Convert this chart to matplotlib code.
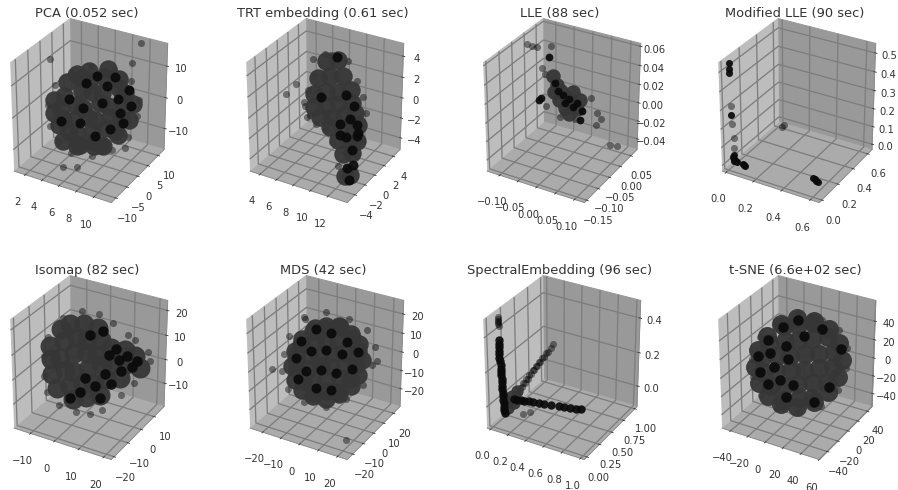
import matplotlib
matplotlib.use('Agg')
import matplotlib.pyplot as plt

# nomi e tempi dei pannelli
titles = ['PCA (0.052 sec)', 'TRT embedding (0.61 sec)', 'LLE (88 sec)', 'Modified LLE (90 sec)',
          'Isomap (82 sec)', 'MDS (42 sec)', 'SpectralEmbedding (96 sec)', 't-SNE (6.6e+02 sec)']

# PCA: 44 nucleo, 16 scuri, 20 bordo
pca_x = [5.2,6.6,8.0,3.7,5.2,6.6,8.0,9.5,3.0,4.5,5.9,7.3,8.7,10.2,3.0,4.5,5.9,7.3,8.7,10.2,3.7,5.2,6.6,8.0,9.5,5.2,6.6,8.0,
         11.0,10.6,9.7,8.2,6.6,4.9,3.5,2.5,2.2,2.5,3.5,4.9,6.6,8.2,9.7,10.6,
         7.2,9.2,10.8,11.1,9.9,8.4,7.8,9.6,6.0,4.0,3.0,5.2,7.0,8.7,5.6,10.2,
         1.4,1.6,2.6,4.2,6.6,9.0,10.8,11.8,11.0,10.0,8.1,5.5,3.1,2.3,9.2,1.5,5.4,7.5,11.0,9.2]
pca_y = [1,-1,0,-1,1,0,-1,1,0,1,-1,1,-1,0,1,0,1,-1,0,-1,1,-1,0,1,-1,0,1,-1,
         1,-1,0,1,-1,0,1,-1,0,1,-1,0,1,-1,0,1,
         0,0,0,0,0,0,0,0,0,0,0,0,0,0,0,0,
         0,0,0,0,0,0,0,0,4,4,4,4,4,0,12,1,-8,-10,-2,8]
pca_z = [8.1,9.6,11.1,2.5,4.1,5.5,6.9,8.5,-2.3,-0.8,0.6,2.1,3.5,5.1,-6.4,-4.9,-3.5,-2.0,-0.6,1.0,-9.9,-8.3,-6.9,-5.5,-3.9,-12.5,-11.0,-9.5,
         4.6,8.9,12.0,13.3,12.6,9.9,5.7,0.6,-4.5,-8.9,-12.0,-13.3,-12.5,-9.8,-5.6,-0.6,
         10.9,12.2,9.4,4.7,1.7,8.7,3.0,5.8,7.9,1.4,-6.4,-5.5,-8.1,-4.6,-0.3,-1.4,
         -2.6,-9.2,-13.6,-16.0,-14.9,-11.1,-5.2,2.0,4.0,9.0,11.2,10.5,6.7,4.5,15.7,11.4,-14.4,-10.9,-7.3,11.9]

# TRT: 28 nucleo, 15 scuri, 21 bordo
trt_x = [8.5,9.9,7.6,9.0,10.4,7.1,8.5,9.9,11.3,7.1,8.5,9.9,11.5,8.4,9.8,11.2,12.4,10.1,11.5,12.6,13.3,11.1,12.4,13.2,12.2,13.2,12.5,13.1,
         9.7,10.8,11.7,7.9,11.9,12.6,10.7,13.2,12.0,13.3,12.7,12.7,13.4,12.9,11.3,
         7.1,6.4,5.9,6.2,7.3,9.1,11.0,12.0,12.7,9.1,13.6,10.4,13.8,11.7,13.7,3.7,5.0,7.0,8.4,6.0,6.6]
trt_y = [0,0,0,0,0,0,0,0,0,0,0,0,0,-1,-1,-1,-1,-2,-2,-2,-2,-2,-2,-2,-3,-3,-3,-3,
         0,0,0,0,-1,-1,-1,-2,-2,-2,-2,-3,-3,-3,-2,
         0,0,0,0,0,0,0,0,0,-1,-1,-2,-2,-3,-3,0,0,0,0,0,0]
trt_z = [4.5,4.9,2.7,3.2,3.5,1.0,1.5,1.9,2.4,-0.2,0.2,0.7,1.2,-0.5,-0.1,0.4,0.9,-0.6,-0.2,0.3,0.4,-1.6,-1.1,-1.2,-2.2,-1.9,-4.3,-4.0,
         5.1,1.8,0.9,0.9,0.2,-0.2,-0.6,-0.7,-1.1,-0.4,-2.2,-3.4,-3.0,-4.6,-1.1,
         2.7,1.2,0.0,-1.4,-1.9,5.1,5.0,3.4,2.0,-1.5,1.2,-2.0,-1.0,-3.5,-2.0,0.2,1.5,4.3,5.1,-0.4,-1.2]

# LLE: 12 nucleo, 12 scuri, 16 bordo
lle_x = [-0.032,-0.021,-0.010,-0.030,0.003,-0.016,0.017,0.000,0.031,0.011,0.022,0.039,
         -0.041,-0.065,-0.071,-0.027,-0.005,0.011,0.022,0.033,-0.019,0.000,0.039,0.044,
         -0.101,-0.087,-0.074,-0.057,-0.060,-0.052,-0.052,-0.005,0.085,0.096,0.083,0.120,0.125,0.069,0.028,-0.013]
lle_y = [-0.04,-0.04,-0.04,-0.04,-0.04,-0.04,-0.04,-0.04,-0.04,-0.04,-0.04,-0.04,
         -0.04,-0.04,-0.04,-0.04,-0.04,-0.04,-0.04,-0.04,-0.04,-0.04,-0.04,-0.04,
         -0.04,-0.04,-0.04,-0.01,-0.04,-0.04,-0.04,-0.04,-0.04,-0.04,-0.04,-0.04,-0.02,-0.04,-0.04,-0.04]
lle_z = [0.036,0.028,0.023,0.020,0.018,0.013,0.013,0.006,0.009,0.001,0.026,0.019,
         0.055,0.009,0.006,0.030,0.019,0.017,0.010,0.015,0.022,0.011,-0.002,0.008,
         0.062,0.062,0.062,0.059,0.042,0.036,0.002,0.001,0.011,0.005,-0.003,-0.019,-0.025,0.024,-0.003,-0.005]

# Modified LLE: solo punti scuri e grigi
mod_x = [0.01,0.01,0.01,0.015,0.02,0.03,0.03,0.04,0.025,0.05,0.10,0.11,0.09,0.60,0.61,0.62,0.59,
         0.02,0.02,0.03,0.03,0.03,0.04]
mod_y = [0.02,0.02,0.02,0.02,0.02,0.02,0.02,0.02,0.03,0.02,0.02,0.02,0.02,0.02,0.02,0.02,0.02,
         0.02,0.02,0.02,0.02,0.60,0.60]
mod_z = [0.54,0.51,0.49,0.27,0.04,0.03,0.02,0.02,0.05,0.02,0.015,0.01,0.02,0.06,0.055,0.05,0.065,
         0.32,0.22,0.15,0.09,-0.02,-0.01]

# Isomap: 34 nucleo, 16 scuri, 18 bordo
iso_x = [-9.6,-4.6,0.5,5.5,-13.0,-7.9,-2.9,2.2,7.2,-13.8,-8.8,-3.7,1.3,6.4,11.4,16.4,21.5,-13.0,-7.9,-2.9,2.2,7.2,12.2,17.3,22.3,-10.4,-5.4,-0.4,4.7,9.7,14.8,-3.7,1.3,6.4,
         13.5,17.7,21.9,19.8,14.8,10.6,15.6,9.3,5.1,-1.2,7.2,0.9,11.4,-5.4,3.0,8.0,
         -14.6,-16.3,-16.5,-15.5,-10.4,-2.9,3.0,8.0,15.6,20.6,22.8,22.8,21.0,18.0,12.2,6.4,-0.4,-7.9]
iso_y = [-1,-3,-2,-1,-3,-2,-1,-3,-2,-1,-3,-2,-1,-3,-2,-1,-3,-2,-1,-3,-2,-1,-3,-2,-1,-3,-2,-1,-3,-2,-1,-3,-2,-1,
         -2,-2,-2,-2,-2,-2,-2,-2,-2,-2,-2,-2,-2,-2,-2,-2,
         -2,-2,-2,-2,-2,-2,-2,-2,-2,-2,6,4,-2,-2,-2,-2,-2,-2]
iso_z = [12.7,16.8,17.8,17.0,5.7,8.9,11.2,12.3,13.3,-0.8,2.0,4.8,5.8,7.7,11.4,11.5,11.2,-6.6,-3.9,-2.0,-0.1,2.7,5.5,6.5,5.8,-11.0,-9.1,-7.2,-4.4,-1.7,-0.6,-13.7,-11.8,-9.9,
         11.3,9.7,9.1,6.1,7.3,8.3,3.2,0.0,-6.0,-10.6,-10.4,-4.1,-3.6,-14.4,14.3,17.1,
         8.6,0.0,-8.2,-14.7,-18.9,-19.6,-18.7,-15.5,-6.5,-0.2,5.1,10.0,16.9,18.3,21.3,23.5,22.7,18.1]

# MDS: 44 nucleo, 16 scuri, 18 bordo
mds_x = [-7.6,-1.0,5.6,-14.1,-7.6,-1.0,5.6,12.1,-17.4,-10.8,-4.3,2.3,8.8,15.4,-17.4,-10.8,-4.3,2.3,8.8,15.4,-14.1,-7.6,-1.0,5.6,12.1,-7.6,-1.0,5.6,
         17.6,16.0,12.1,6.1,-1.0,-8.1,-14.1,-18.0,-19.6,-18.0,-14.1,-8.1,-1.0,6.1,12.1,16.0,
         -14.7,-6.5,1.7,9.9,15.4,-17.4,-9.2,-1.0,7.2,-11.9,-3.7,4.5,12.7,-6.5,1.7,-16.3,
         -24.0,-25.0,-21.8,-13.0,-1.0,9.9,18.7,23.0,24.0,19.8,11.0,-1.0,-11.9,-20.7,-21.0,23.6,-21.5,21.4]
mds_y = [2,0,1,0,2,1,0,2,1,2,0,2,0,1,2,1,2,0,1,0,2,0,1,2,0,1,2,0,
         1,1,1,1,1,1,1,1,1,1,1,1,1,1,1,1,
         1,1,1,1,1,1,1,1,1,1,1,1,1,1,1,1,
         1,1,1,1,1,1,1,1,1,1,1,1,1,1,-14,-24,16,9]
mds_z = [15.4,17.9,20.4,6.1,8.5,11.0,13.5,15.9,-1.9,0.5,3.0,5.4,7.9,10.4,-8.7,-6.3,-3.8,-1.4,1.1,3.5,-14.4,-12.0,-9.5,-7.0,-4.6,-18.8,-16.3,-13.8,
         6.6,14.0,18.2,20.0,19.0,14.6,8.4,1.2,-7.4,-14.7,-18.9,-20.7,-19.7,-15.3,-9.1,-1.9,
         7.1,15.9,16.1,13.5,9.9,-2.5,3.4,6.5,6.8,-7.9,-4.8,-4.0,0.2,-15.5,-14.2,-13.5,
         -2.1,-11.6,-20.7,-25.4,-24.3,-16.8,-6.6,5.2,14.8,22.3,25.8,25.9,19.5,8.2,-2.2,-20.8,11.3,2.9]

# Spectral: 5 nucleo, 36 scuri, resto grigi
spe_x = [0.10,0.06,0.10,0.15,0.12,
         0.03,0.03,0.03,0.03,0.03,0.03,0.03,0.04,0.04,0.04,0.04,0.05,0.05,0.05,0.05,0.06,0.06,0.06,0.07,0.07,0.07,0.07,
         0.18,0.22,0.26,0.30,0.35,0.40,0.46,0.52,0.60,0.68,0.74,0.80,0.87,0.92,
         0.03,0.03,0.03,0.03,0.03,0.03,0.10,0.10,0.10,0.10,0.10,0.10,0.10,0.10,0.10,0.10,0.10,0.10,0.10,0.10,
         0.10,0.10,0.10,0.10,0.10,0.10,0.10,0.10,0.10,0.10,0.10,0.10,0.30,0.25]
spe_y = [0.20,0.20,0.12,0.15,0.25,
         0.10,0.10,0.10,0.10,0.10,0.10,0.10,0.10,0.10,0.10,0.10,0.10,0.10,0.10,0.10,0.10,0.10,0.10,0.10,0.10,0.10,0.10,
         0.10,0.10,0.10,0.10,0.10,0.10,0.10,0.10,0.10,0.10,0.10,0.10,0.10,0.10,
         0.10,0.10,0.10,0.10,0.10,0.10,0.15,0.20,0.26,0.32,0.38,0.44,0.50,0.56,0.62,0.68,0.74,0.82,0.90,1.00,
         0.23,0.29,0.35,0.41,0.47,0.53,0.59,0.65,0.71,0.78,0.86,0.95,0.20,0.15]
spe_z = [0.02,-0.02,-0.03,0.00,0.04,
         0.36,0.34,0.32,0.30,0.28,0.26,0.24,0.22,0.20,0.18,0.16,0.14,0.12,0.10,0.08,0.06,0.04,0.02,0.00,-0.02,-0.04,-0.06,
         0.042,0.045,0.050,0.053,0.058,0.062,0.066,0.070,0.076,0.084,0.088,0.094,0.100,0.106,
         0.49,0.48,0.47,0.46,0.45,0.44,-0.02,-0.01,0.00,0.01,0.025,0.035,0.045,0.055,0.065,0.075,0.085,0.09,0.10,0.125,
         0.00,0.015,0.03,0.04,0.05,0.06,0.07,0.08,0.09,0.095,0.105,0.115,-0.04,-0.05]

# t-SNE: 44 nucleo, 18 scuri, 14 bordo
tsn_x = [-11.2,5.0,21.2,-27.4,-11.2,5.0,21.2,37.4,-36.7,-20.5,-4.3,11.9,28.2,44.4,-36.7,-20.5,-4.3,11.9,28.2,44.4,-27.4,-11.2,5.0,21.2,37.4,-11.2,5.0,21.2,
         53.6,49.0,38.6,22.4,3.8,-14.7,-30.9,-41.3,-44.8,-41.3,-30.9,-14.7,3.8,22.4,38.6,49.0,
         -29.7,-12.4,5.0,-41.3,-27.4,-8.9,10.8,-39.0,-22.8,-6.6,-29.7,-15.8,-0.8,-8.9,22.4,39.7,51.3,30.5,
         -48.3,-48.3,-39.0,-20.5,5.0,30.5,49.0,58.0,58.0,49.0,30.5,5.0,-20.5,-39.0]
tsn_y = [-1,-3,-2,-3,-1,-2,-3,-1,-2,-1,-3,-1,-3,-2,-1,-2,-1,-3,-2,-3,-1,-3,-2,-1,-3,-2,-1,-3,
         -2,-2,-2,-2,-2,-2,-2,-2,-2,-2,-2,-2,-2,-2,-2,-2,
         -2,-2,-2,-2,-2,-2,-2,-2,-2,-2,-2,-2,-2,-2,-2,-2,-2,-2,
         -2,-2,-2,-2,-2,-2,-2,-2,-2,-2,-2,-2,-2,-2]
tsn_z = [40.4,46.2,52.0,18.5,24.3,30.1,35.9,41.7,-0.9,4.9,10.7,16.5,22.3,28.1,-17.0,-11.2,-5.4,0.4,6.2,12.0,-29.8,-24.0,-18.2,-12.4,-6.6,-40.1,-34.3,-28.5,
         22.2,38.9,50.2,54.7,52.7,41.5,25.4,6.6,-13.0,-30.2,-41.3,-45.9,-43.9,-32.7,-16.5,2.1,
         21.2,38.9,50.8,-0.3,7.0,20.5,35.7,-16.7,-7.4,6.5,-28.3,-18.8,-20.3,-37.0,-32.7,-11.6,32.9,48.4,
         -5.0,-25.7,-43.1,-52.6,-49.2,-34.4,-11.7,15.1,35.8,52.7,58.0,58.9,44.0,21.3]

# quanti punti per strato
panel_data = [(pca_x, pca_y, pca_z, 44, 16), (trt_x, trt_y, trt_z, 28, 15),
              (lle_x, lle_y, lle_z, 12, 12), (mod_x, mod_y, mod_z, 0, 17),
              (iso_x, iso_y, iso_z, 34, 16), (mds_x, mds_y, mds_z, 44, 16),
              (spe_x, spe_y, spe_z, 5, 36), (tsn_x, tsn_y, tsn_z, 44, 18)]
core_sizes = [340, 340, 210, 0, 400, 340, 150, 360]
dark_sizes = [100, 100, 60, 50, 110, 100, 70, 110]

x_lims = [(0.65, 11.95), (2.8, 14.2), (-0.135, 0.125), (-0.03, 0.66), (-17, 23), (-27, 25), (-0.04, 1.04), (-50, 60)]
y_lims = [(-12, 13), (-5.5, 5.5), (-0.16, 0.08), (-0.03, 0.66), (-22, 18), (-25, 27), (-0.05, 1.05), (-55, 50)]
z_lims = [(-17, 17), (-5.2, 5.2), (-0.052, 0.063), (-0.03, 0.55), (-20, 24), (-30, 27), (-0.125, 0.5), (-55, 62)]

x_ticks = [[2, 4, 6, 8, 10], [4, 6, 8, 10, 12], [-0.10, -0.05, 0.00, 0.05, 0.10], [0.0, 0.2, 0.4, 0.6],
           [-10, 0, 10, 20], [-20, -10, 0, 10, 20], [0.0, 0.2, 0.4, 0.6, 0.8, 1.0], [-40, -20, 0, 20, 40, 60]]
y_ticks = [[-10, -5, 0, 5, 10], [-4, -2, 0, 2, 4], [-0.15, -0.10, -0.05, 0.00, 0.05], [0.0, 0.2, 0.4, 0.6],
           [-20, -10, 0, 10], [-20, -10, 0, 10, 20], [0.00, 0.25, 0.50, 0.75, 1.00], [-40, -20, 0, 20, 40]]
z_ticks = [[-10, 0, 10], [-4, -2, 0, 2, 4], [-0.04, -0.02, 0.00, 0.02, 0.04, 0.06], [0.0, 0.1, 0.2, 0.3, 0.4, 0.5],
           [-10, 0, 10, 20], [-20, -10, 0, 10, 20], [0.0, 0.2, 0.4], [-40, -20, 0, 20, 40]]

W, H = 898, 490
centers = [(87, 111), (323, 111), (560, 111), (795, 111), (87, 368), (323, 368), (560, 368), (795, 368)]
SIDE = 230

plt.rcParams['axes3d.grid'] = True
plt.rcParams['grid.color'] = '#7d7d7d'
plt.rcParams['grid.linewidth'] = 1.3
plt.rcParams['axes.edgecolor'] = '#8a8a8a'
plt.rcParams['text.color'] = '#333333'

fig = plt.figure(figsize=(W / 72, H / 72), dpi=72)

for i, (px, py, pz, n_core, n_dark) in enumerate(panel_data):
    cx, cy = centers[i]
    # computed_zorder spento: altrimenti il nucleo copre i punti neri
    ax = fig.add_axes([(cx - SIDE / 2) / W, 1 - (cy + SIDE / 2) / H, SIDE / W, SIDE / H],
                      projection='3d', computed_zorder=False)
    ax.set_box_aspect((1, 1, 1.1), zoom=0.85)

    # prima il bordo chiaro, poi il nucleo, poi i punti neri
    start = n_core + n_dark
    ax.scatter(px[start:], py[start:], pz[start:], s=50, c='black', alpha=0.42, linewidths=0, depthshade=False, zorder=1)
    if n_core:
        ax.scatter(px[:n_core], py[:n_core], pz[:n_core], s=core_sizes[i], c='#363636', alpha=0.95, linewidths=0, depthshade=False, zorder=2)
    ax.scatter(px[n_core:start], py[n_core:start], pz[n_core:start], s=dark_sizes[i], c='#0a0a0a', alpha=0.92, linewidths=0, depthshade=False, zorder=3)

    ax.set_xlim(*x_lims[i])
    ax.set_ylim(*y_lims[i])
    ax.set_zlim(*z_lims[i])
    ax.set_xticks(x_ticks[i])
    ax.set_yticks(y_ticks[i])
    ax.set_zticks(z_ticks[i])
    ax.tick_params(labelsize=10, colors='#333333', pad=3)
    ax.tick_params(axis='x', pad=9)
    ax.tick_params(axis='y', pad=6)
    ax.xaxis.set_pane_color((0.74, 0.74, 0.74, 1))
    ax.yaxis.set_pane_color((0.60, 0.60, 0.60, 1))
    ax.zaxis.set_pane_color((0.67, 0.67, 0.67, 1))
    ax.set_title(titles[i], fontsize=13, y=0.99, pad=0)

fig.savefig('out.png', dpi=72)
